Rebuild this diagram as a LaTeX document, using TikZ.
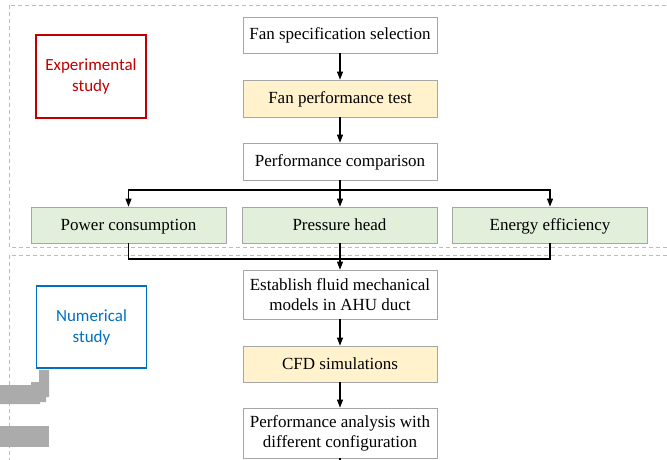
\documentclass[tikz,border=0pt]{standalone}
\usepackage{fontspec}
\setmainfont{Liberation Serif}
\newfontfamily\labfont{Carlito}
\usetikzlibrary{arrows.meta}
\definecolor{boxline}{HTML}{A6A6A6}
\definecolor{yel}{HTML}{FFF2CC}
\definecolor{grn}{HTML}{E2EFDA}
\definecolor{redl}{HTML}{C00000}
\definecolor{bluel}{HTML}{0070C0}
\definecolor{pinkd}{HTML}{EFA3B5}
\definecolor{blued}{HTML}{96C7EA}
\definecolor{grayart}{HTML}{ABABAB}
\tikzset{
  stepbox/.style={draw=boxline, line width=0.8pt, minimum width=194pt, inner sep=2pt, align=center, font=\fontsize{17}{20}\selectfont},
  oneline/.style={text height=12pt, text depth=2pt},
  yelbox/.style={stepbox, oneline, fill=yel},
  grnbox/.style={stepbox, oneline, fill=grn, minimum width=195pt, minimum height=36pt},
  studybox/.style={line width=1.5pt, minimum width=110pt, align=center, font=\labfont\fontsize{17}{21}\selectfont},
  arr/.style={line width=1.1pt, -{Triangle[length=8pt,width=6pt]}},
  ln/.style={line width=1.1pt},
  zone/.style={line width=0.9pt, dash pattern=on 4pt off 3pt}
}
\begin{document}
\begin{tikzpicture}[x=1pt,y=-1pt]
\useasboundingbox (0,0) rectangle (667,460);
\clip (0,0) rectangle (667,460);
% zones
\draw[zone, draw=pinkd] (9,5) rectangle (680,247);
\draw[zone, draw=blued] (9,255) rectangle (680,480);
% artifacts
\fill[grayart] (39,370) -- (49,370) -- (49,397) -- (46,397) -- (46,402) -- (40,402) -- (40,404) -- (0,404) -- (0,385) -- (31,385) -- (31,382) -- (39,382) -- cycle;
\fill[grayart] (0,426) rectangle (49,447);
% study labels
\node[studybox, draw=redl, text=redl, minimum height=83pt] (exp) at (91,76.5) {Experimental\\study};
\node[studybox, draw=bluel, text=bluel, minimum height=82pt] (num) at (91.5,327) {Numerical\\study};
% main column
\node[stepbox, oneline, fill=white, minimum height=36pt] (b1) at (340,35) {Fan specification selection};
\node[yelbox, minimum height=37pt] (b2) at (340,98.5) {Fan performance test};
\node[stepbox, oneline, fill=white, minimum height=37pt] (b3) at (340,161.5) {Performance comparison};
\node[grnbox] (g1) at (128.5,225) {Power consumption};
\node[grnbox] (g2) at (339.5,225) {Pressure head};
\node[grnbox] (g3) at (550,225) {Energy efficiency};
\node[stepbox, fill=white, minimum height=49pt] (b4) at (340,294.5) {Establish fluid mechanical\\models in AHU duct};
\node[yelbox, minimum height=36pt] (b5) at (340,364) {CFD simulations};
\node[stepbox, fill=white, minimum height=50pt] (b6) at (340,433) {Performance analysis with\\different configuration};
% connectors
\coordinate (j1) at (340,190);
\coordinate (j2) at (340,259);
\coordinate (end) at (340,462);
\draw[arr] (b1) -- (b2);
\draw[arr] (b2) -- (b3);
\draw[ln] (b3.south) -- (j1);
\draw[arr] (j1) -| (g1.north);
\draw[arr] (j1) -| (g3.north);
\draw[arr] (j1) -- (g2.north -| j1);
\draw[ln] (g1.south) |- (j2);
\draw[ln] (g3.south) |- (j2);
\draw[ln] (g2.south -| j2) -- (j2);
\draw[arr] (j2) -- (b4.north);
\draw[arr] (b4) -- (b5);
\draw[arr] (b5) -- (b6);
\draw[ln] (b6.south) -- (end);
\end{tikzpicture}
\end{document}
